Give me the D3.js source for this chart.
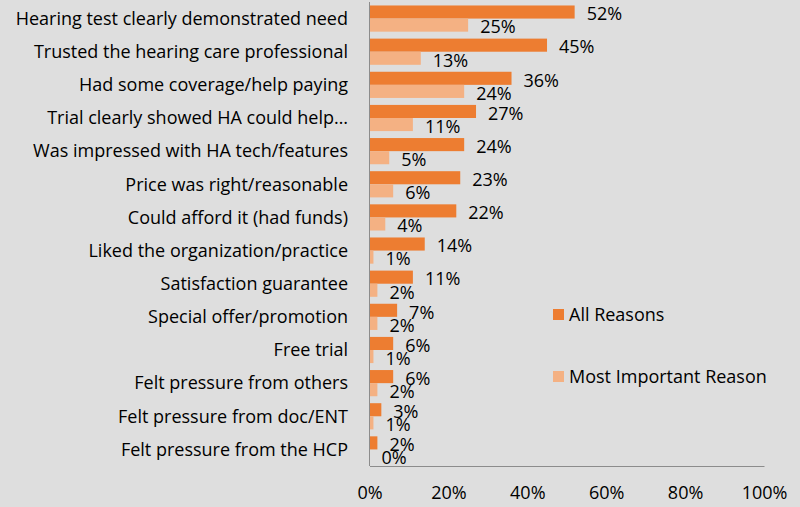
<!DOCTYPE html>
<html><head><meta charset="utf-8">
<script src="https://cdn.jsdelivr.net/npm/d3@7"></script>
<style>
html,body{margin:0;padding:0;background:#dedede;}
svg{display:block;font-family:"Open Sans", sans-serif;}
</style></head><body>
<svg id="c" width="800" height="507"></svg>
<script>
const categories = ["Hearing test clearly demonstrated need","Trusted the hearing care professional","Had some coverage/help paying","Trial clearly showed HA could help…","Was impressed with HA tech/features","Price was right/reasonable","Could afford it (had funds)","Liked the organization/practice","Satisfaction guarantee","Special offer/promotion","Free trial","Felt pressure from others","Felt pressure from doc/ENT","Felt pressure from the HCP"];
const allReasons = [52,45,36,27,24,23,22,14,11,7,6,6,3,2];
const mostImportant = [25,13,24,11,5,6,4,1,2,2,1,2,1,0];
const xTicks = [0,20,40,60,80,100];
const seriesNames = ["All Reasons","Most Important Reason"];
const colors = ["#ED7D31","#F4B183"];

(function(){
const svg = d3.select("#c");
const FS = 18;
const pL = 369.5, pR = 764, pT = 2, pB = 466;
const x = d3.scaleLinear().domain([0,100]).range([pL,pR]);
const y = d3.scaleBand().domain(categories).range([pT,pB]).paddingInner(0.21).paddingOuter(0.105);
const sub = d3.scaleBand().domain(seriesNames).range([0,y.bandwidth()]);

const rows = categories.map((c,i)=>({c, vals:[allReasons[i], mostImportant[i]]}));
const g = svg.append("g");
rows.forEach(r=>{
  r.vals.forEach((v,j)=>{
    const yy = y(r.c)+sub(seriesNames[j]);
    g.append("rect").attr("x",x(0)).attr("y",yy).attr("width",x(v)-x(0)).attr("height",sub.bandwidth()).attr("fill",colors[j]);
    g.append("text").attr("x",x(v)+12).attr("y",yy+sub.bandwidth()/2+2).attr("dy","0.35em")
      .attr("font-size",FS).attr("fill","#000").text(v+"%");
  });
});

svg.append("g").selectAll("text").data(categories).join("text")
  .attr("x",348).attr("y",d=>y(d)+y.bandwidth()/2).attr("dy","0.35em")
  .attr("text-anchor","end").attr("font-size",FS).attr("fill","#000").text(d=>d);

svg.append("line").attr("x1",x(0)).attr("x2",x(0)).attr("y1",pT).attr("y2",pB).attr("stroke","#8c8c8c").attr("stroke-width",1);
const xa = d3.axisBottom(x).tickValues(xTicks).tickFormat(d=>d+"%").tickSize(0).tickPadding(20);
const ax = svg.append("g").attr("transform",`translate(0,${pB})`).call(xa);
ax.select(".domain").attr("stroke","#8c8c8c");
ax.selectAll("text").attr("font-size",FS).attr("fill","#000").attr("font-family","'Open Sans', sans-serif");

const leg = svg.append("g");
const legY = [314.5, 376.5];
seriesNames.forEach((s,i)=>{
  leg.append("rect").attr("x",553).attr("y",legY[i]-5.5).attr("width",11).attr("height",11).attr("fill",colors[i]);
  leg.append("text").attr("x",569).attr("y",legY[i]).attr("dy","0.35em").attr("font-size",FS).attr("fill","#000").text(s);
});
})();
</script>
</body></html>
